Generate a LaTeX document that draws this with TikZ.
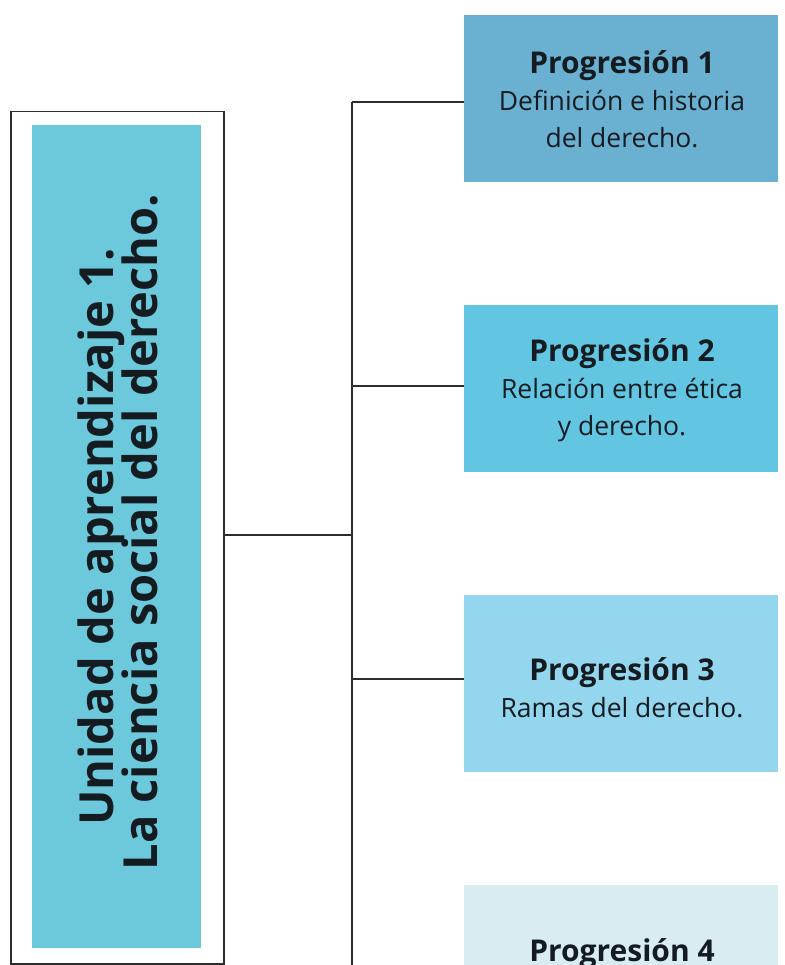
\documentclass[tikz,border=0pt]{standalone}
\usepackage{fontspec}
\setmainfont{Open Sans}
\definecolor{inner}{RGB}{108,201,220}
\definecolor{pone}{RGB}{106,176,208}
\definecolor{ptwo}{RGB}{98,198,226}
\definecolor{pthree}{RGB}{148,214,238}
\definecolor{pfour}{RGB}{217,237,241}
\definecolor{ink}{RGB}{20,28,34}
\definecolor{wire}{RGB}{45,45,45}
\newcommand{\progtitle}[1]{{\bfseries\fontsize{30}{37}\selectfont #1}}
\tikzset{
  progbox/.style={minimum width=314pt, inner sep=0pt, text=ink, align=center,
    font=\fontsize{26.5}{37}\selectfont},
  wirestyle/.style={draw=wire, line width=1.8pt},
  titlefont/.style={font=\bfseries\fontsize{47}{44}\selectfont, text=ink},
}
\begin{document}
\begin{tikzpicture}[x=1pt,y=-1pt]
\clip (0,0) rectangle (784,965);
\fill[white] (0,0) rectangle (784,965);
% left frame and inner filled box
\node[draw=wire, line width=1.5pt, minimum width=213pt, minimum height=852pt, inner sep=0pt, anchor=north west] (frame) at (10,111) {};
\node[fill=inner, minimum width=169pt, minimum height=823pt, inner sep=0pt, anchor=north west] (inbox) at (32,125) {};
\node[titlefont, rotate=90, anchor=base] (l1) at (113,537) {Unidad de aprendizaje 1.};
\node[titlefont, rotate=90, anchor=base] (l2) at (157,532) {La ciencia social del derecho.};
% progression boxes
\node[progbox, fill=pone, minimum height=167pt, anchor=north west] (p1) at (464,15) {};
\node[progbox, fill=ptwo, minimum height=167pt, anchor=north west] (p2) at (464,305) {};
\node[progbox, fill=pthree, minimum height=177pt, anchor=north west] (p3) at (464,595) {};
\node[progbox, fill=pfour, minimum height=177pt, anchor=north west] (p4) at (464,885) {};
\node[progbox, minimum height=0pt] (t1) at (622,99) {\progtitle{Progresión 1}\\Definición e historia\\del derecho.};
\node[progbox, minimum height=0pt] (t2) at (622,390) {\progtitle{Progresión 2}\\Relación entre ética\\y derecho.};
\node[progbox, minimum height=0pt] (t3) at (622,688) {\progtitle{Progresión 3}\\Ramas del derecho.};
\node[progbox, minimum height=0pt, anchor=base] (t4) at (622,961) {\progtitle{Progresión 4}};
% connectors
\coordinate (hub) at (352,535);
\coordinate (vtop) at (352,102);
\coordinate (vbot) at (352,970);
\coordinate (j1) at (352,102);
\coordinate (j2) at (352,386);
\coordinate (j3) at (352,679);
\draw[wirestyle] (frame.east |- hub) -- (hub);
\draw[wirestyle] (vtop) -- (vbot);
\draw[wirestyle] (j1) -- (j1 -| p1.west);
\draw[wirestyle] (j2) -- (j2 -| p2.west);
\draw[wirestyle] (j3) -- (j3 -| p3.west);
\end{tikzpicture}
\end{document}
